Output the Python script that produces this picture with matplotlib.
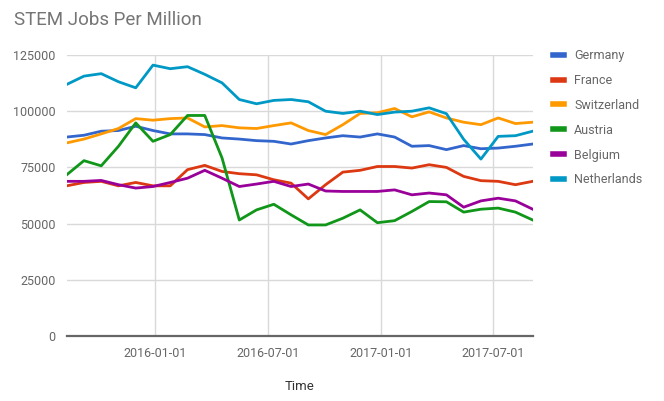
import matplotlib
matplotlib.use("Agg")
import matplotlib.pyplot as plt
import matplotlib.dates as mdates
import pandas as pd

plt.rcParams['font.family'] = ['Roboto', 'DejaVu Sans']

dates = pd.date_range('2015-08-10', periods=28, freq='28D')

germany = [88500, 89300, 91100, 91400, 93300, 91400, 89900, 89900, 89600, 88100,
           87600, 86900, 86600, 85400, 86900, 88100, 89100, 88500, 89900, 88500,
           84400, 84700, 82900, 84700, 83300, 83600, 84400, 85400]
france = [66800, 68300, 68800, 66800, 68300, 66800, 66800, 74000, 75900, 73200,
          72200, 71700, 69500, 68000, 61000, 67300, 72900, 73700, 75400, 75400,
          74700, 76200, 75000, 71000, 69100, 68800, 67300, 68800]
switzerland = [85900, 87600, 89900, 92300, 96700, 96000, 96700, 97000, 93000, 93600,
               92600, 92300, 93600, 94800, 91400, 89600, 94000, 99000, 99300, 101200,
               97500, 99700, 97000, 95100, 94000, 97000, 94500, 95100]
austria = [71700, 78000, 75700, 84400, 94800, 86600, 89600, 98100, 98100, 79200,
           51600, 56100, 58600, 53900, 49400, 49400, 52400, 56100, 50400, 51300,
           55400, 59800, 59700, 55100, 56400, 56900, 55100, 51600]
belgium = [68800, 68800, 69200, 67300, 65800, 66500, 68300, 70200, 73700, 70200,
           66500, 67600, 68800, 66500, 67600, 64500, 64300, 64300, 64300, 65000,
           62800, 63600, 62800, 57300, 60100, 61300, 60100, 56400]
netherlands = [111900, 115600, 116700, 113100, 110400, 120500, 118900, 119800, 116400, 112600,
               105200, 103300, 104800, 105200, 104200, 100000, 99000, 100000, 98500, 99600,
               100000, 101500, 98900, 87500, 78700, 88800, 89100, 91100]

series = [("Germany", germany, "#3366CC"),
          ("France", france, "#DC3912"),
          ("Switzerland", switzerland, "#FF9900"),
          ("Austria", austria, "#109618"),
          ("Belgium", belgium, "#990099"),
          ("Netherlands", netherlands, "#0099C6")]

y_ticks = [0, 25000, 50000, 75000, 100000, 125000]
x_ticks = ['2016-01-01', '2016-07-01', '2017-01-01', '2017-07-01']

W, H = 664, 401
fig = plt.figure(figsize=(W / 100, H / 100), dpi=100)
ax = fig.add_axes([66.7 / W, (H - 336) / H, (532.7 - 66.7) / W, (336 - 55) / H])

handles = []
for name, vals, col in series:
    ln, = ax.plot(dates, vals, color=col, lw=2.0, label=name, solid_joinstyle='round')
    handles.append(ln)

ax.set_xlim(dates[0], dates[-1])
ax.set_ylim(0, 125000)
ax.set_yticks(y_ticks)
ax.set_yticklabels([str(v) for v in y_ticks])
ax.set_xticks([pd.Timestamp(d) for d in x_ticks])
ax.set_xticklabels(x_ticks)

ax.grid(True, color='#d9d9d9', lw=1.0)
ax.set_axisbelow(True)
for s in ['top', 'right', 'left']:
    ax.spines[s].set_visible(False)
ax.spines['bottom'].set_color('#666666')
ax.spines['bottom'].set_linewidth(1.6)
ax.tick_params(axis='both', length=0, labelsize=9, labelcolor='#666666')
ax.tick_params(axis='y', pad=8)
ax.tick_params(axis='x', pad=8)

ax.set_xlabel('Time', fontsize=9.5, color='#333333', labelpad=14)

fig.text(14 / W, 1 - 20 / H, 'STEM Jobs Per Million', fontsize=13.5, color='#757575',
         ha='left', va='center')

leg = fig.legend(handles=handles, loc='upper left', bbox_to_anchor=(548 / W, 1 - 44 / H),
                 frameon=False, fontsize=9, handlelength=0.9, handletextpad=0.8,
                 labelspacing=0.95, borderaxespad=0)
for t in leg.get_texts():
    t.set_color('#666666')
for lh in leg.get_lines():
    lh.set_linewidth(4)

fig.savefig('out.png', dpi=100)
